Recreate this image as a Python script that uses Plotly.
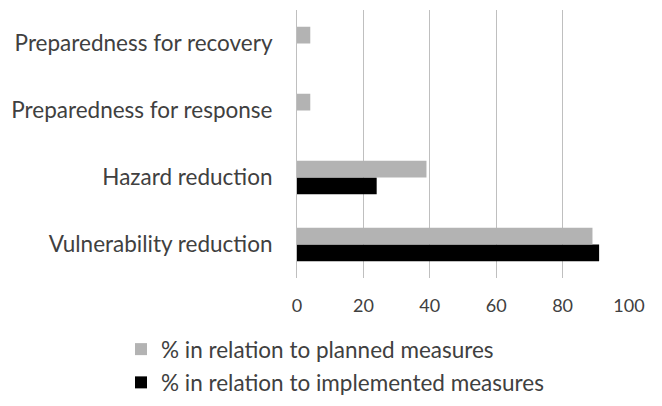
import plotly.graph_objects as go

categories = ["Vulnerability reduction", "Hazard reduction",
              "Preparedness for response", "Preparedness for recovery"]
planned = [89, 39, 4, 4]
implemented = [91, 24, 0, 0]
tick_vals = [0, 20, 40, 60, 80, 100]

FONT = "Lato"
TXT = "#404040"

fig = go.Figure()
fig.add_trace(go.Bar(
    y=categories, x=implemented, orientation="h",
    name="% in relation to implemented measures",
    marker=dict(color="#000000", line=dict(width=0)),
    legendgroup="b", legendrank=2,
))
fig.add_trace(go.Bar(
    y=categories, x=planned, orientation="h",
    name="% in relation to planned measures",
    marker=dict(color="#b3b3b3", line=dict(width=0)),
    legendgroup="a", legendrank=1,
))

fig.update_layout(
    width=662, height=406,
    margin=dict(l=297, r=33, t=10, b=128, autoexpand=False),
    paper_bgcolor="white", plot_bgcolor="white",
    barmode="group", bargap=0.5, bargroupgap=0,
    font=dict(family=FONT, size=22, color=TXT),
    showlegend=True,
    legend=dict(
        orientation="v", traceorder="grouped", tracegroupgap=1,
        x=(121 - 297) / 332, xanchor="left",
        y=-(328 - 278) / 268, yanchor="top",
        font=dict(family=FONT, size=22.5, color=TXT),
        itemclick=False, itemdoubleclick=False,
    ),
)
fig.update_xaxes(
    range=[0, 100], tickvals=tick_vals, showgrid=True,
    gridcolor="#bfbfbf", gridwidth=1, zeroline=False,
    showline=False, ticks="", tickfont=dict(size=18, color=TXT),
    ticklabelstandoff=15, automargin=False, fixedrange=True,
)
fig.update_yaxes(
    categoryorder="array", categoryarray=categories,
    showline=True, linecolor="#bfbfbf", linewidth=1,
    showgrid=False, ticks="", ticklabelstandoff=19, automargin=False,
    tickfont=dict(size=22.5, color=TXT), fixedrange=True,
)

fig.write_html("out.html", config={"displayModeBar": False},
               post_script="document.body.style.margin='0';")
